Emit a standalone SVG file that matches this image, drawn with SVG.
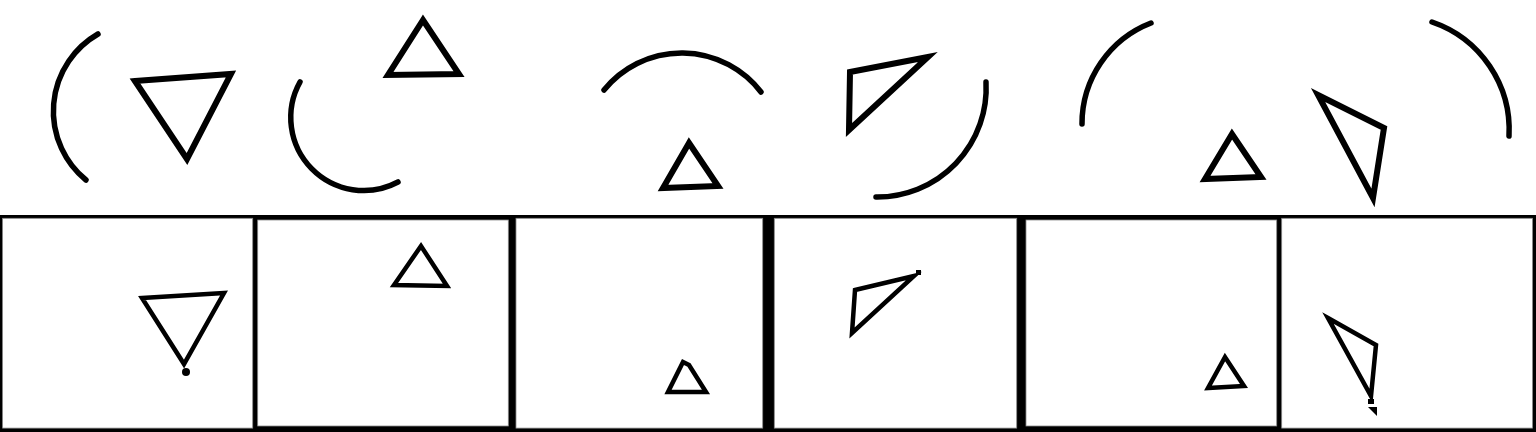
<svg xmlns="http://www.w3.org/2000/svg" width="1536" height="432" viewBox="0 0 1536 432">
<style>
.arc{fill:none;stroke:#000;stroke-width:5.5;stroke-linecap:round}
.tri{fill:none;stroke:#000;stroke-width:6;stroke-linejoin:miter}
.tri4{fill:none;stroke:#000;stroke-width:4.5;stroke-linejoin:miter}
.pane{fill:#fff;stroke:#8a8a8a;stroke-width:0.8}
</style>
<rect width="1536" height="432" fill="#fff"/>
<g id="top-scene">
  <path id="arc1" class="arc" d="M98 34 A89 89 0 0 0 86 180"/>
  <polygon id="tri1" class="tri" points="135,81 231,74 187,159"/>
  <path id="arc2" class="arc" d="M300 82 A73 73 0 0 0 398 182"/>
  <polygon id="tri2" class="tri" points="423,20 388,75 459,74"/>
  <path id="arc3" class="arc" d="M604 90 A100 100 0 0 1 761 92"/>
  <polygon id="tri3" class="tri" points="689,143 663,188 718,186"/>
  <polygon id="tri4" class="tri" points="850,72 928,57 849,130"/>
  <path id="arc4" class="arc" d="M986 82 A109 109 0 0 1 876 197"/>
  <path id="arc5" class="arc" d="M1151 23 A108 108 0 0 0 1082 124"/>
  <polygon id="tri5" class="tri" points="1232,134 1205,179 1261,177"/>
  <polygon id="tri6" class="tri" points="1318,95 1384,128 1373,198"/>
  <path id="arc6" class="arc" d="M1432 22 A114 114 0 0 1 1509 136"/>
</g>
<g id="strip">
  <rect x="0" y="215" width="1536" height="217" fill="#000"/>
  <rect id="panel1" class="pane" x="2.6" y="218.3" width="250.1" height="209.8"/>
  <rect id="panel2" class="pane" x="257.7" y="220" width="250.6" height="206"/>
  <rect id="panel3" class="pane" x="516" y="218.3" width="246.7" height="209.8"/>
  <rect id="panel4" class="pane" x="774.3" y="218.3" width="242.4" height="209.8"/>
  <rect id="panel5" class="pane" x="1026" y="220" width="250.7" height="206"/>
  <rect id="panel6" class="pane" x="1281.7" y="218.3" width="250.8" height="209.8"/>
</g>
<g id="panel-shapes">
  <polygon id="p1-tri" class="tri4" points="142,298 224,293 184,364"/>
  <circle id="p1-dot" cx="186" cy="372" r="4" fill="#000"/>
  <polygon id="p2-tri" class="tri4" points="421,246 394,285 447,286"/>
  <polygon id="p3-tri" class="tri4" points="668,392 683,362 689,365 706,392"/>
  <polygon id="p4-tri" class="tri4" points="855,290 914,276 852,333"/>
  <rect id="p4-mark" x="916" y="270" width="5" height="5" fill="#000"/>
  <polygon id="p5-tri" class="tri4" points="1225,357 1208,388 1244,386"/>
  <polygon id="p6-tri" class="tri4" points="1328,318 1376,345 1371,396"/>
  <rect id="p6-mark" x="1368" y="399" width="6" height="5" fill="#000"/>
  <polygon id="p6-mark2" points="1368,407 1377,407 1377,416" fill="#000"/>
</g>
</svg>
